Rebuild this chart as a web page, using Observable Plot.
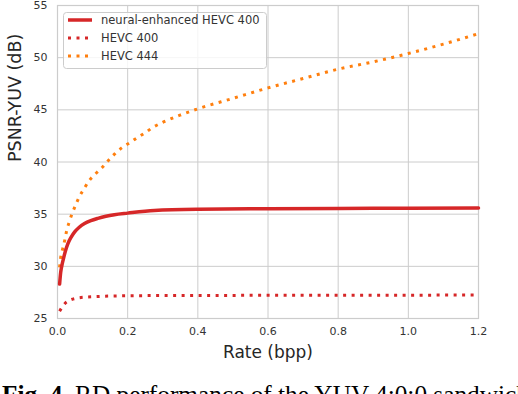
<!DOCTYPE html>
<html><head><meta charset="utf-8">
<script src="https://cdn.jsdelivr.net/npm/d3@7"></script>
<script src="https://cdn.jsdelivr.net/npm/@observablehq/plot@0.6"></script>
<style>
body{margin:0;background:#fff;width:518px;height:394px;overflow:hidden;}
#chart svg{display:block;}
#cap{font-family:"Liberation Serif","Times New Roman",serif;font-size:25.3px;white-space:nowrap;margin-left:2px;line-height:28px;color:#000;}
</style></head><body>
<div id="chart"></div>
<div id="cap"><b>Fig. 4.</b> RD performance of the YUV 4:0:0 sandwich</div>
<script>
const seriesNames = ["neural-enhanced HEVC 400", "HEVC 400", "HEVC 444"];
const seriesColors = ["#d62728", "#d62728", "#ff7f0e"];

const rateNE = [0.006, 0.009, 0.012, 0.016, 0.022, 0.030, 0.039, 0.049, 0.062, 0.077, 0.095, 0.115, 0.138, 0.162, 0.200, 0.276, 0.400, 0.600, 0.800, 1.000, 1.200];
const psnrNE = [28.3, 29.4, 30.0, 30.6, 31.4, 32.2, 32.8, 33.3, 33.75, 34.1, 34.38, 34.6, 34.8, 34.95, 35.1, 35.35, 35.47, 35.52, 35.55, 35.57, 35.6];

const rate400 = [0.006, 0.020, 0.035, 0.055, 0.080, 0.120, 0.200, 0.300, 0.600, 0.900, 1.200];
const psnr400 = [25.7, 26.4, 26.75, 26.95, 27.05, 27.12, 27.18, 27.2, 27.22, 27.23, 27.25];

const rate444 = [0.006, 0.009, 0.015, 0.021, 0.026, 0.033, 0.041, 0.052, 0.062, 0.075, 0.090, 0.108, 0.128, 0.145, 0.164, 0.183, 0.206, 0.228, 0.250, 0.271, 0.300, 0.350, 0.400, 0.500, 0.600, 0.700, 0.800, 0.900, 1.000, 1.100, 1.200];
const psnr444 = [29.9, 30.8, 31.7, 32.55, 33.4, 34.2, 35.0, 35.9, 36.65, 37.4, 38.2, 38.85, 39.5, 40.15, 40.8, 41.35, 41.85, 42.35, 42.8, 43.3, 43.8, 44.5, 45.1, 46.1, 47.1, 48.0, 48.9, 49.6, 50.4, 51.3, 52.3];

const xTicks = [0.0, 0.2, 0.4, 0.6, 0.8, 1.0, 1.2];
const yTicks = [25, 30, 35, 40, 45, 50, 55];
const xLabel = "Rate (bpp)";
const yLabel = "PSNR-YUV (dB)";

const toRows = (xs, ys, name) => xs.map((x, i) => ({rate: x, psnr: ys[i], series: name}));
const ne = toRows(rateNE, psnrNE, seriesNames[0]);
const h400 = toRows(rate400, psnr400, seriesNames[1]);
const h444 = toRows(rate444, psnr444, seriesNames[2]);

const W = 518, H = 380;
const textColor = "#262626";
const fontFam = "DejaVu Sans, sans-serif";

const chart = Plot.plot({
  width: W, height: H,
  marginLeft: 57, marginRight: 40, marginTop: 5, marginBottom: 62,
  style: {fontFamily: fontFam, color: textColor, background: "#fff"},
  x: {domain: [0, 1.2], ticks: xTicks, label: null},
  y: {domain: [25, 55], ticks: yTicks, label: null},
  marks: [
    Plot.gridX(xTicks, {stroke: "#cccccc", strokeOpacity: 1, strokeWidth: 1}),
    Plot.gridY(yTicks, {stroke: "#cccccc", strokeOpacity: 1, strokeWidth: 1}),
    Plot.frame({stroke: "#cccccc", strokeWidth: 1.2}),
    Plot.axisX(xTicks, {tickSize: 0, tickPadding: 9, fontSize: 11, tickFormat: d3.format(".1f"), label: null, fill: "#333"}),
    Plot.axisY(yTicks, {tickSize: 0, tickPadding: 10, fontSize: 11, label: null, fill: "#333"}),
    Plot.line(h444, {x: "rate", y: "psnr", stroke: seriesColors[2], strokeWidth: 3, strokeDasharray: "3,5.5", strokeLinecap: "butt", curve: "monotone-x"}),
    Plot.line(h400, {x: "rate", y: "psnr", stroke: seriesColors[1], strokeWidth: 3, strokeDasharray: "3,5.5", strokeLinecap: "butt", curve: "monotone-x"}),
    Plot.line(ne, {x: "rate", y: "psnr", stroke: seriesColors[0], strokeWidth: 3.5, curve: "monotone-x"}),
    Plot.text([xLabel], {frameAnchor: "bottom", dy: 34, lineAnchor: "middle", fontSize: 17, fill: textColor}),
    Plot.text([yLabel], {frameAnchor: "left", dx: -42, rotate: -90, lineAnchor: "middle", fontSize: 17.5, fill: textColor})
  ]
});
document.getElementById("chart").appendChild(chart);

// legend inside plot, top-left
const svg = d3.select(chart);
const lg = svg.append("g").attr("font-family", fontFam).attr("font-size", 11.5).attr("text-anchor", "start");
lg.append("rect").attr("x", 63.5).attr("y", 12.5).attr("width", 203).attr("height", 56)
  .attr("rx", 3).attr("fill", "#fff").attr("fill-opacity", 0.8).attr("stroke", "#cccccc");
seriesNames.forEach((name, i) => {
  const yy = 20 + i * 18;
  const line = lg.append("line").attr("x1", 68).attr("x2", 92).attr("y1", yy).attr("y2", yy)
    .attr("stroke", seriesColors[i]).attr("stroke-width", i === 0 ? 3.5 : 3);
  if (i > 0) line.attr("stroke-dasharray", "3,5.5");
  lg.append("text").attr("x", 101).attr("y", yy).attr("dy", "0.35em").attr("text-anchor", "start").attr("fill", "#333").text(name);
});
</script>
</body></html>
